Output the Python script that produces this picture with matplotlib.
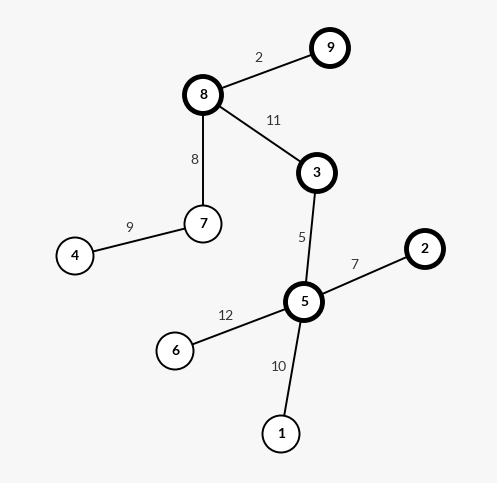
import matplotlib
matplotlib.use("Agg")
import matplotlib.pyplot as plt
from matplotlib.patches import Circle

# Knoten und Positionen (Pixel im Referenzbild)
nodes = ["1", "2", "3", "4", "5", "6", "7", "8", "9"]
node_x = [281, 425, 317, 75, 304, 175, 203, 203, 330]
node_y = [434, 249, 173, 256, 302, 351, 224, 95, 48]
thick_nodes = ["2", "3", "5", "8", "9"]

# Kanten mit Gewichten
edge_from = ["8", "8", "8", "7", "3", "5", "5", "5"]
edge_to = ["9", "3", "7", "4", "5", "2", "6", "1"]
weights = ["2", "11", "8", "9", "5", "7", "12", "10"]
label_x = [258, 274, 194, 129, 301, 354, 226, 279]
label_y = [58, 121, 160, 228, 238, 265, 316, 367]

pos = {n: (x, y) for n, x, y in zip(nodes, node_x, node_y)}

fig = plt.figure(figsize=(4.97, 4.83), dpi=100, facecolor="#f7f7f7")
ax = fig.add_axes([0, 0, 1, 1])
ax.set_facecolor("#f7f7f7")
ax.set_xlim(0, 497)
ax.set_ylim(483, 0)
ax.set_aspect("equal")
ax.axis("off")

for a, b in zip(edge_from, edge_to):
    (x1, y1), (x2, y2) = pos[a], pos[b]
    ax.plot([x1, x2], [y1, y2], color="black", lw=1.4, zorder=1)

for w, lx, ly in zip(weights, label_x, label_y):
    ax.text(lx, ly, w, ha="center", va="center", fontsize=10,
            family="Lato", color="#333333", zorder=3)

for n in nodes:
    x, y = pos[n]
    lw = 3.5 if n in thick_nodes else 1.4
    ax.add_patch(Circle((x, y), 18.5, facecolor="white", edgecolor="black",
                        lw=lw, zorder=2))
    ax.text(x, y, n, ha="center", va="center", fontsize=10, family="Lato",
            fontweight="bold", color="black", zorder=3)

fig.savefig("out.png", dpi=100, facecolor=fig.get_facecolor())
